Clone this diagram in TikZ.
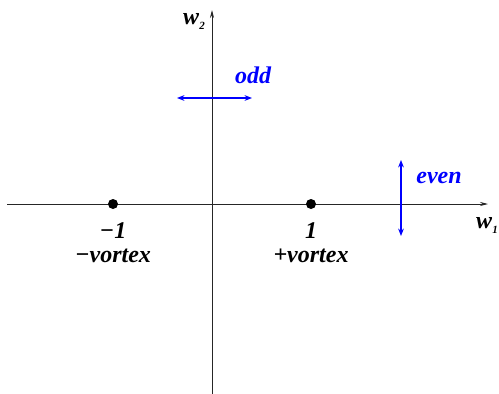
\documentclass[tikz,border=0pt]{standalone}
\usepackage{fontspec}
\setmainfont{Liberation Serif}
\usepackage{tikz}
\usetikzlibrary{arrows.meta,positioning}

\begin{document}
\begin{tikzpicture}[
  x=1pt,y=-1pt,
  node distance=1pt and 1pt,
  font=\bfseries\itshape\fontsize{24}{26}\selectfont,
  axis/.style={-{Stealth[length=2.8mm,width=1.4mm]},line width=0.8pt,black!85},
  sym/.style={{Stealth[length=2.6mm,width=2mm]}-{Stealth[length=2.6mm,width=2mm]},line width=1.6pt,blue},
  dot/.style={circle,fill=black,inner sep=0pt,minimum size=10pt},
  lbl/.style={inner sep=1pt},
  blbl/.style={inner sep=1pt,text=blue}
]
\useasboundingbox (0,0) rectangle (499,394);
% axes
\coordinate (xl) at (7,204);
\coordinate (xr) at (488,204);
\coordinate (yb) at (212,394);
\coordinate (yt) at (212,10);
\draw[axis] (xl) -- (xr);
\draw[axis] (yb) -- (yt);
\node[lbl] (wtwo) at (194,21) {w{\fontsize{11}{11}\selectfont\raisebox{-5pt}{2}}};
\node[lbl] (wone) at (487,225) {w{\fontsize{11}{11}\selectfont\raisebox{-5pt}{1}}};
% vortices
\node[dot] (minus) at (113,204) {};
\node[dot] (plus) at (311,204) {};
\node[lbl,anchor=base] (mone) at (113,238) {−1};
\node[lbl,anchor=base] (mvort) at (113,262) {−vortex};
\node[lbl,anchor=base] (pone) at (311,238) {1};
\node[lbl,anchor=base] (pvort) at (311,262) {+vortex};
% symmetry arrows
\coordinate (oddl) at (177,98);
\coordinate (oddr) at (252,98);
\draw[sym] (oddl) -- (oddr);
\node[blbl] (odd) at (253,75) {odd};
\coordinate (event) at (401,160);
\coordinate (evenb) at (401,236);
\draw[sym] (event) -- (evenb);
\node[blbl] (even) at (439,178) {even};
\end{tikzpicture}
\end{document}
